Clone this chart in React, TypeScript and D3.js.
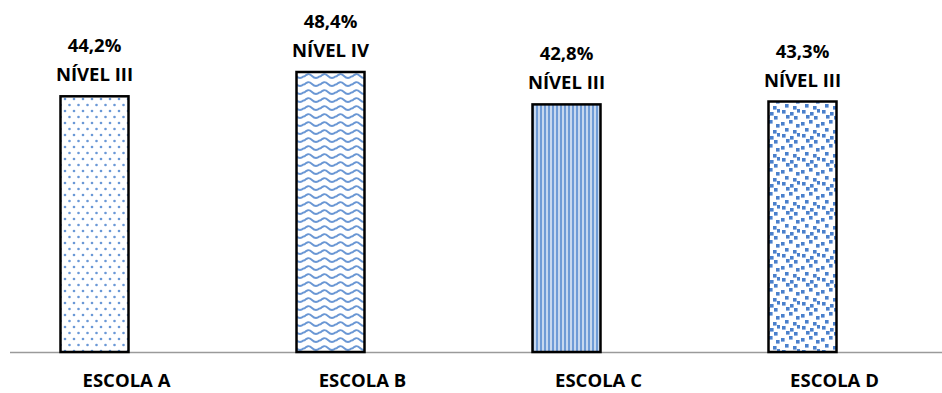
import React from "react";
import * as d3 from "d3";

const categories = ["ESCOLA A", "ESCOLA B", "ESCOLA C", "ESCOLA D"];
const values = [44.2, 48.4, 42.8, 43.3];
const valueLabels = ["44,2%", "48,4%", "42,8%", "43,3%"];
const levelLabels = ["NÍVEL III", "NÍVEL IV", "NÍVEL III", "NÍVEL III"];
const patternIds = ["pat-dots", "pat-wave", "pat-stripes", "pat-confetti"];

const W = 942;
const H = 393;
const baseY = 352;
const font = "'Open Sans', sans-serif";

export default function App() {
  const x = d3.scalePoint<string>().domain(categories).range([94.5, 802.5]);
  const y = d3.scaleLinear().domain([0, 48.4]).range([baseY, 72]);
  const barW = 68;

  // confetti squares for the last bar
  const confetti: [number, number][] = [
    [1, 2], [9, 0], [16, 4], [5, 8], [13, 10], [2, 14], [10, 16], [17, 13], [6, 19], [14, 20],
  ];

  const labelStyle = {
    fontFamily: font,
    fontWeight: 700,
    fontSize: 18.5,
    fill: "#000",
  } as const;

  return (
    <svg width={W} height={H} style={{ position: "absolute", left: 0, top: 0 }}>
      <defs>
        <pattern id="pat-dots" width="9" height="12" patternUnits="userSpaceOnUse">
          <rect width="9" height="12" fill="#fff" />
          <circle cx="2" cy="3" r="1.3" fill="#6a98d6" />
          <circle cx="6.5" cy="9" r="1.3" fill="#6a98d6" />
        </pattern>
        <pattern id="pat-wave" width="16" height="8" patternUnits="userSpaceOnUse">
          <rect width="16" height="8" fill="#fff" />
          <path d="M0 5 Q4 0 8 4 T16 4" fill="none" stroke="#6a97d4" strokeWidth="1.8" />
        </pattern>
        <pattern id="pat-stripes" width="4" height="4" patternUnits="userSpaceOnUse">
          <rect width="4" height="4" fill="#c7d8ef" />
          <rect x="0" width="2" height="4" fill="#6f9bd6" />
        </pattern>
        <pattern id="pat-confetti" width="20" height="24" patternUnits="userSpaceOnUse">
          <rect width="20" height="24" fill="#fff" />
          {confetti.map(([cx, cy], i) => (
            <rect key={i} x={cx} y={cy} width="3.6" height="3.6" fill="#4a80cc" />
          ))}
        </pattern>
      </defs>

      <line x1={10} x2={942} y1={baseY + 0.5} y2={baseY + 0.5} stroke="#9a9a9a" strokeWidth={1.5} />

      {categories.map((c, i) => {
        const cx = x(c)!;
        const top = y(values[i]);
        return (
          <g key={c}>
            <rect
              x={cx - barW / 2}
              y={top}
              width={barW}
              height={baseY - top}
              fill={`url(#${patternIds[i]})`}
              stroke="#000"
              strokeWidth={2.5}
            />
            <text x={cx} y={top - 44} textAnchor="middle" {...labelStyle}>
              {valueLabels[i]}
            </text>
            <text x={cx} y={top - 15} textAnchor="middle" {...labelStyle}>
              {levelLabels[i]}
            </text>
            <text x={cx + 32} y={387} textAnchor="middle" {...labelStyle}>
              {c}
            </text>
          </g>
        );
      })}
    </svg>
  );
}
